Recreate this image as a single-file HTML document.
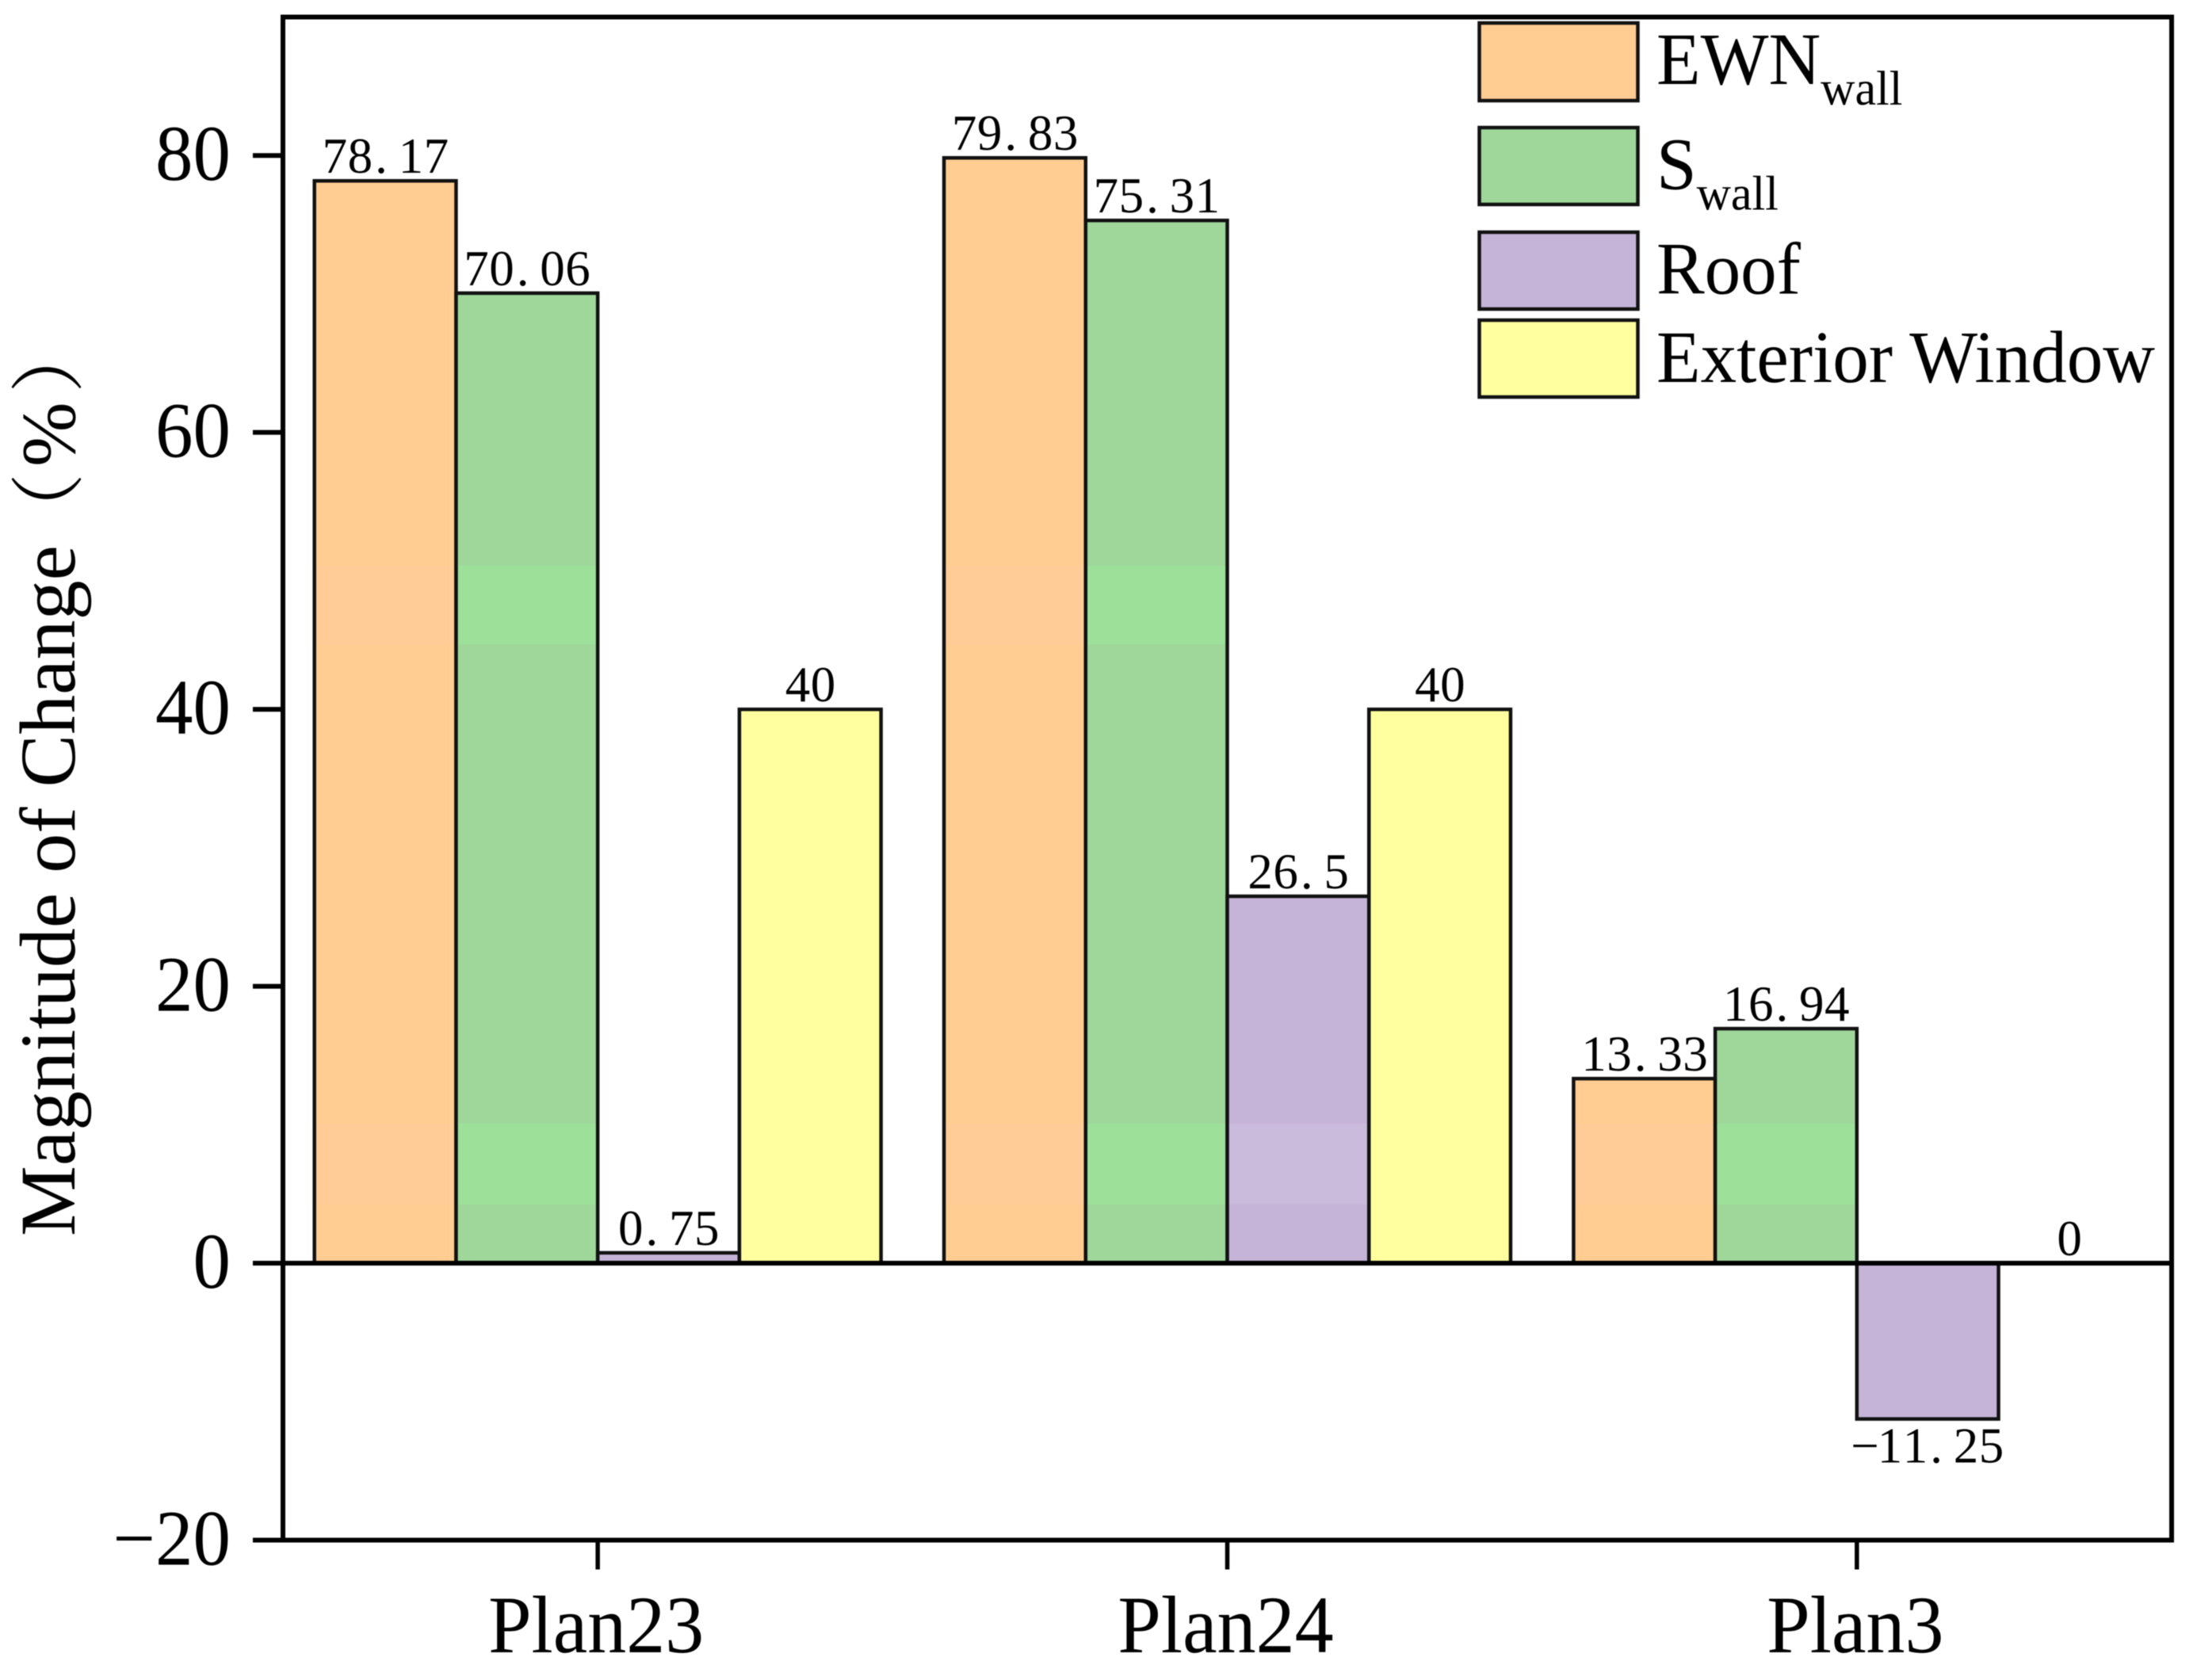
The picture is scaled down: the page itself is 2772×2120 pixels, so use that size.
<!DOCTYPE html>
<html lang="en">
<head>
<meta charset="utf-8">
<title>Magnitude of Change by Plan</title>
<style>
html,body{margin:0;padding:0;background:#fff;}
svg{display:block;filter:blur(0.6px);}
text{font-family:"Liberation Serif","Noto Serif CJK SC",serif;fill:#000;}
</style>
</head>
<body>
<svg id="chart" xmlns="http://www.w3.org/2000/svg" width="2772" height="2120" viewBox="0 0 2772 2120">
  <defs id="defs"></defs>
  <rect x="0" y="0" width="2772" height="2120" fill="#fff"/>
  <g id="bars"></g>
  <g id="labels"></g>
  <g id="axes"></g>
  <text transform="translate(94,1560) rotate(-90)" font-size="100" x="0" y="0">Magnitude of Change<tspan x="869" font-family="'Noto Serif CJK SC',serif" font-size="94">（</tspan><tspan x="971" font-size="98">%</tspan><tspan x="1064" font-family="'Noto Serif CJK SC',serif" font-size="94">）</tspan></text>
  <g>
    <g>
      <rect x="1866.5" y="29" width="200" height="98" fill="#FFCC91" stroke="#111" stroke-width="4.5"/>
      <text transform="translate(2090,106) scale(1,1.03)" font-size="91">EWN<tspan font-size="60" dy="25">wall</tspan></text>
    </g>
    <g>
      <rect x="1866.5" y="161" width="200" height="97" fill="#9FD79B" stroke="#111" stroke-width="4.5"/>
      <text transform="translate(2090,238.5) scale(1,1.03)" font-size="91">S<tspan font-size="60" dy="25">wall</tspan></text>
    </g>
    <g>
      <rect x="1866.5" y="293" width="200" height="97" fill="#C5B4D7" stroke="#111" stroke-width="4.5"/>
      <text transform="translate(2090,370.5) scale(1,1.03)" font-size="91">Roof</text>
    </g>
    <g>
      <rect x="1866.5" y="404" width="200" height="97" fill="#FFFF9F" stroke="#111" stroke-width="4.5"/>
      <text transform="translate(2090,482) scale(1,1.03)" font-size="91">Exterior Window</text>
    </g>
  </g>
</svg>
<script>
const categories = ['Plan23', 'Plan24', 'Plan3'];
const seriesNames = ['EWN wall', 'S wall', 'Roof', 'Exterior Window'];
const seriesColors = ['#FFCC91', '#9FD79B', '#C5B4D7', '#FFFF9F'];
const seriesBandColors = ['#FFCB97', '#9CE09A', '#CABADC', '#FFFF9F'];
const ewnWallValues = [78.17, 79.83, 13.33];
const sWallValues = [70.06, 75.31, 16.94];
const roofValues = [0.75, 26.5, -11.25];
const exteriorWindowValues = [40, 40, 0];
const yTickLabels = [-20, 0, 20, 40, 60, 80];

const allSeries = [ewnWallValues, sWallValues, roofValues, exteriorWindowValues];
const SVG_NS = 'http://www.w3.org/2000/svg';
const plotLeft = 357, plotRight = 2740, plotTop = 21.5, plotBottom = 1943.5;
const yMin = -20, yMax = 90;
const barFraction = 0.225;
const cellWidth = 32;

function yScale(v) {
  return plotBottom - (v - yMin) / (yMax - yMin) * (plotBottom - plotTop);
}
function xBand() {
  return (plotRight - plotLeft) / categories.length;
}
function xCenter(i) {
  return plotLeft + xBand() * (i + 0.5);
}
function barLeft(catIndex, seriesIndex) {
  const w = xBand() * barFraction;
  return xCenter(catIndex) + (seriesIndex - allSeries.length / 2) * w;
}
function make(tag) {
  return document.createElementNS(SVG_NS, tag);
}
function slug(s) {
  return s.toLowerCase().replace(/\s+/g, '-');
}
function formatValue(v) {
  return String(v).replace('-', '\u2212');
}

const defsLayer = document.getElementById('defs');
const barsLayer = document.getElementById('bars');
const labelsLayer = document.getElementById('labels');
const axesLayer = document.getElementById('axes');

/* Soft compression bands visible in the bar fills of the source image. */
const bandStops = [[714, 813], [1418, 1520]];
seriesColors.forEach(function (base, s) {
  const grad = make('linearGradient');
  grad.setAttribute('id', 'fill-' + s);
  grad.setAttribute('gradientUnits', 'userSpaceOnUse');
  grad.setAttribute('x1', 0);
  grad.setAttribute('y1', 0);
  grad.setAttribute('x2', 0);
  grad.setAttribute('y2', 2120);
  function stop(y, color) {
    const st = make('stop');
    st.setAttribute('offset', y / 2120);
    st.setAttribute('stop-color', color);
    grad.appendChild(st);
  }
  stop(0, base);
  bandStops.forEach(function (b) {
    stop(b[0], base);
    stop(b[0], seriesBandColors[s]);
    stop(b[1], seriesBandColors[s]);
    stop(b[1], base);
  });
  stop(2120, base);
  defsLayer.appendChild(grad);
});

allSeries.forEach(function (values, s) {
  values.forEach(function (v, c) {
    const w = xBand() * barFraction;
    const left = barLeft(c, s);
    const top = yScale(Math.max(v, 0));
    const bottom = yScale(Math.min(v, 0));
    const rect = make('rect');
    
    
    rect.setAttribute('x', left);
    rect.setAttribute('y', top);
    rect.setAttribute('width', w);
    rect.setAttribute('height', bottom - top);
    rect.setAttribute('fill', 'url(#fill-' + s + ')');
    rect.setAttribute('stroke', '#111');
    rect.setAttribute('stroke-width', '4.5');
    barsLayer.appendChild(rect);

    const str = formatValue(v);
    const total = str.length * cellWidth;
    const center = left + w / 2;
    const xs = [];
    for (let k = 0; k < str.length; k++) {
      const ch = str[k];
      const offset = ch === '.' ? 3 : ch === '\u2212' ? -1 : 0.5;
      xs.push((center - total / 2 + k * cellWidth + offset).toFixed(1));
    }
    const label = make('text');
    
    
    label.setAttribute('x', xs.join(' '));
    label.setAttribute('y', v < 0 ? bottom + 55 : top - 10);
    label.setAttribute('font-size', '63');
    label.textContent = str;
    labelsLayer.appendChild(label);
  });
});

function line(name, x1, y1, x2, y2, width) {
  const l = make('line');
  
  
  l.setAttribute('x1', x1);
  l.setAttribute('y1', y1);
  l.setAttribute('x2', x2);
  l.setAttribute('y2', y2);
  l.setAttribute('stroke', '#000');
  l.setAttribute('stroke-width', width);
  axesLayer.appendChild(l);
}

const frame = make('rect');


frame.setAttribute('x', plotLeft);
frame.setAttribute('y', plotTop);
frame.setAttribute('width', plotRight - plotLeft);
frame.setAttribute('height', plotBottom - plotTop);
frame.setAttribute('fill', 'none');
frame.setAttribute('stroke', '#000');
frame.setAttribute('stroke-width', '6');
axesLayer.appendChild(frame);

line('zero-line', plotLeft, yScale(0), plotRight, yScale(0), 6);

yTickLabels.forEach(function (t) {
  const y = yScale(t);
  line('y-tick-' + t, plotLeft - 38, y, plotLeft, y, 6);
  const label = make('text');
  
  
  label.setAttribute('transform', 'translate(291,' + (y + 31) + ') scale(1,1.05)');
  label.setAttribute('font-size', '95');
  label.setAttribute('text-anchor', 'end');
  label.textContent = formatValue(t);
  axesLayer.appendChild(label);
});

categories.forEach(function (name, i) {
  const x = xCenter(i);
  line('x-tick-' + slug(name), x, plotBottom, x, plotBottom + 37, 5.5);
  const label = make('text');
  
  
  label.setAttribute('transform', 'translate(' + (x - 2) + ',2085) scale(1,1.05)');
  label.setAttribute('font-size', '98');
  label.setAttribute('text-anchor', 'middle');
  label.textContent = name;
  axesLayer.appendChild(label);
});
</script>
</body>
</html>
